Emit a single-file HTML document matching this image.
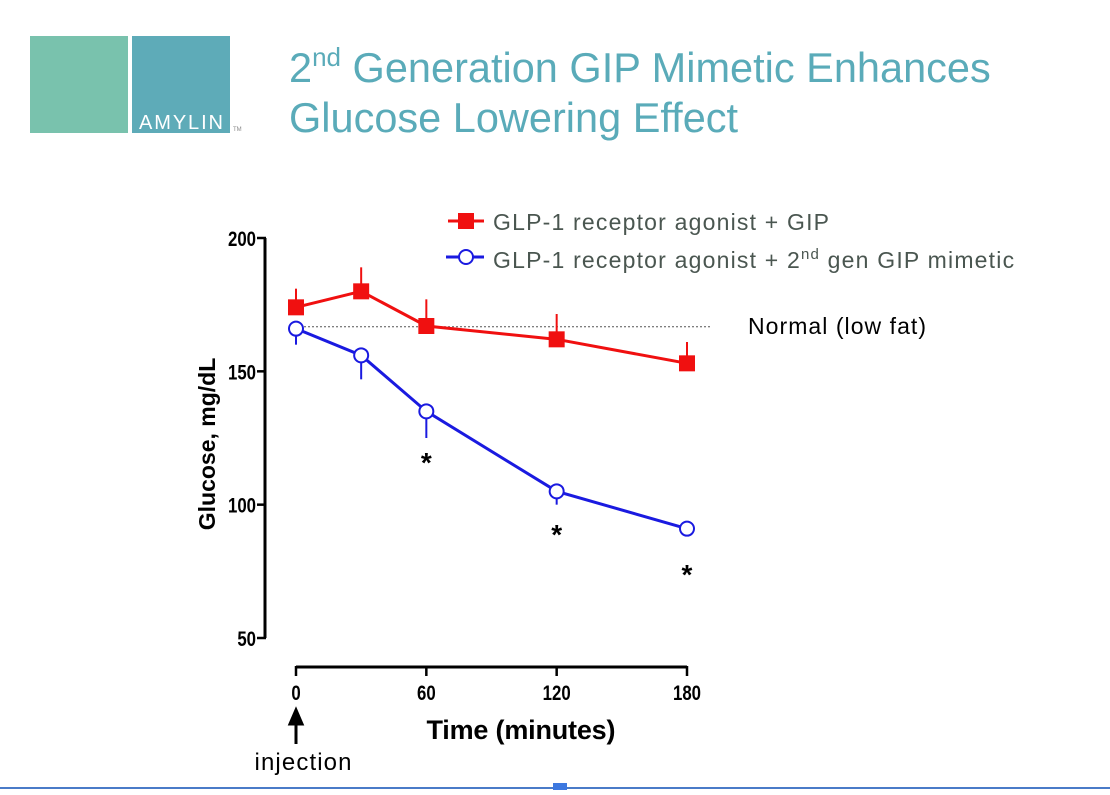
<!DOCTYPE html>
<html><head><meta charset="utf-8"><style>
body{margin:0;background:#fff;width:1110px;height:790px;overflow:hidden;font-family:"Liberation Sans",sans-serif}
</style></head><body>
<svg width="1110" height="790" xmlns="http://www.w3.org/2000/svg">
<g>
<rect x="30" y="36" width="98" height="97" fill="#79c2ad"/>
<rect x="132" y="36" width="98" height="97" fill="#5eabb8"/>
<text x="181" y="129" font-size="20" fill="#fff" text-anchor="middle" textLength="84">AMYLIN</text>
<text x="233" y="131" font-size="6" fill="#888">TM</text>
</g>
<g fill="#5aabb9" font-size="41.5">
<text x="289" y="82">2<tspan font-size="26" dy="-16">nd</tspan><tspan dy="16"> Generation GIP Mimetic Enhances</tspan></text>
<text x="289" y="132">Glucose Lowering Effect</text>
</g>
<g id="chart"></g>
<rect x="0" y="787" width="1110" height="2" fill="#4a7bc8"/>
<rect x="553" y="783" width="14" height="7" fill="#3d78e0"/>
</svg>
<script>
const times=[0,30,60,120,180];
const redVals=[174,180,167,162,153];
const redErr=[7,9,10,9.5,8];
const blueVals=[166,156,135,105,91];
const blueErr=[6,9,10,5,0];
const yTicks=[50,100,150,200];
const xTicks=[0,60,120,180];
const normalLevel=166.7;
const sigTimes=[60,120,180];
const NS="http://www.w3.org/2000/svg";
const g=document.getElementById('chart');
const X=t=>296+t*(391/180);
const Y=v=>638-(v-50)*(400/150);
function mk(tag,attrs,parent){const e=document.createElementNS(NS,tag);for(const k in attrs)e.setAttribute(k,attrs[k]);(parent||g).appendChild(e);return e;}
let e=mk('line',{x1:265,y1:Y(200),x2:265,y2:Y(50),stroke:'#000','stroke-width':3});


yTicks.forEach(v=>{
 let t=mk('line',{x1:257,y1:Y(v),x2:266,y2:Y(v),stroke:'#000','stroke-width':2.5});
 
 
 let l=mk('text',{x:256/0.8,y:Y(v)+8,'font-size':21,'font-weight':'bold','text-anchor':'end',fill:'#000',transform:'scale(0.8,1)'});
 l.textContent=v;
 
 
});
e=mk('line',{x1:X(0),y1:667,x2:X(180),y2:667,stroke:'#000','stroke-width':3});


xTicks.forEach(v=>{
 let t=mk('line',{x1:X(v),y1:666,x2:X(v),y2:676,stroke:'#000','stroke-width':2.5});
 
 
 let l=mk('text',{x:X(v)/0.8,y:700,'font-size':21,'font-weight':'bold','text-anchor':'middle',fill:'#000',transform:'scale(0.8,1)'});
 l.textContent=v;
 
 
});
e=mk('text',{x:521,y:739,'font-size':27,'font-weight':'bold','text-anchor':'middle',fill:'#000',textLength:189});
e.textContent='Time (minutes)';


e=mk('text',{x:0,y:0,'font-size':23,'font-weight':'bold','text-anchor':'middle',fill:'#000',transform:'translate(215,444) rotate(-90)'});
e.textContent='Glucose, mg/dL';


e=mk('path',{d:`M${X(0)} 744 L${X(0)} 722 M${X(0)-6} 724 L${X(0)} 710 L${X(0)+6} 724 Z`,stroke:'#000','stroke-width':3,fill:'#000'});


e=mk('text',{x:303,y:770,'font-size':24,'text-anchor':'middle',fill:'#000',textLength:97});
e.textContent='injection';


e=mk('line',{x1:X(0),y1:Y(normalLevel),x2:710,y2:Y(normalLevel),stroke:'#555','stroke-width':1,'stroke-dasharray':'2,2'});


e=mk('text',{x:748,y:334,'font-size':23,fill:'#000',textLength:178});
e.textContent='Normal (low fat)';


times.forEach((t,i)=>{let l=mk('line',{x1:X(t),y1:Y(redVals[i]),x2:X(t),y2:Y(redVals[i]+redErr[i]),stroke:'#f01010','stroke-width':2});
 
 });
e=mk('polyline',{points:times.map((t,i)=>X(t)+','+Y(redVals[i])).join(' '),fill:'none',stroke:'#f01010','stroke-width':3});


times.forEach((t,i)=>{let r=mk('rect',{x:X(t)-8,y:Y(redVals[i])-8,width:16,height:16,fill:'#f01010'});
 
 });
times.forEach((t,i)=>{if(!blueErr[i])return;let l=mk('line',{x1:X(t),y1:Y(blueVals[i]),x2:X(t),y2:Y(blueVals[i]-blueErr[i]),stroke:'#1a1ae0','stroke-width':2});
 
 });
e=mk('polyline',{points:times.map((t,i)=>X(t)+','+Y(blueVals[i])).join(' '),fill:'none',stroke:'#1a1ae0','stroke-width':3});


times.forEach((t,i)=>{let c=mk('circle',{cx:X(t),cy:Y(blueVals[i]),r:7,fill:'#fff',stroke:'#1a1ae0','stroke-width':2});
 
 });
const sigY={60:472,120:544,180:584};
sigTimes.forEach(t=>{let s=mk('text',{x:X(t),y:sigY[t],'font-size':28,'font-weight':'bold','text-anchor':'middle',fill:'#000'});
 s.textContent='*';
 
 });
e=mk('line',{x1:448,y1:221,x2:484,y2:221,stroke:'#f01010','stroke-width':3});


e=mk('rect',{x:458,y:213,width:16,height:16,fill:'#f01010'});


e=mk('text',{x:493,y:230,'font-size':23,fill:'#4a5650',textLength:336});
e.textContent='GLP-1 receptor agonist + GIP';


e=mk('line',{x1:446,y1:257,x2:484,y2:257,stroke:'#1a1ae0','stroke-width':3});


e=mk('circle',{cx:466,cy:257,r:7,fill:'#fff',stroke:'#1a1ae0','stroke-width':2});


e=mk('text',{x:493,y:268,'font-size':23,fill:'#4a5650','letter-spacing':'1.2'});
e.innerHTML='GLP-1 receptor agonist + 2<tspan font-size="15" dy="-9">nd</tspan><tspan dy="9"> gen GIP mimetic</tspan>';


</script>
</body></html>
